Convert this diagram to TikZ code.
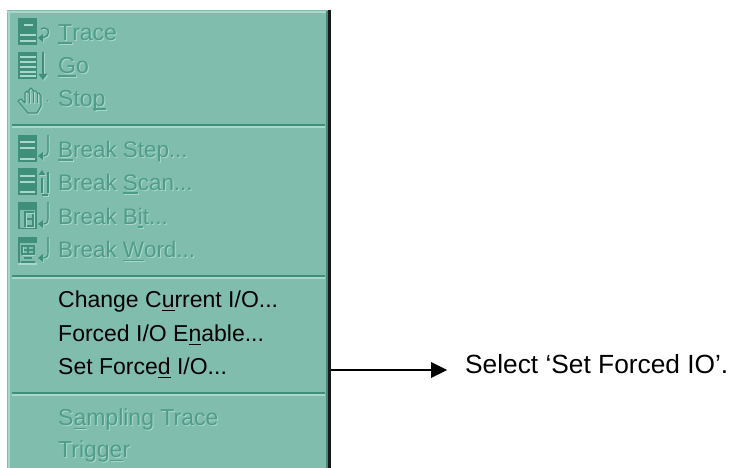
\documentclass[tikz,border=0pt]{standalone}
\usepackage{fontspec}
\setmainfont{Liberation Sans}
\definecolor{panel}{HTML}{80BDAC}
\definecolor{gdark}{HTML}{3F8F7A}
\definecolor{glight}{HTML}{A8D8CA}
\definecolor{etch}{HTML}{4F9C88}
\newcommand\mnem[1]{{\setbox0\hbox{#1}\rlap{\rule[-3pt]{\wd0}{1.2pt}}\box0}}
\newcommand\engr[1]{\rlap{\raisebox{-1pt}{\hspace{1pt}\textcolor{glight}{#1}}}\textcolor{etch}{#1}}
% box icon: top y
\newcommand\iconbox[1]{\fill[gdark] (18,#1) rectangle (37,#1+27);}
\newcommand\iln[3]{\draw[glight,line width=1.3] (#1,#3) -- (#2,#3);}
% return hook arrow
\newcommand\rethook[2]{%
 \foreach \c/\d in {glight/1,gdark/0}{
  \draw[\c,line width=1.1] (48+\d,#1+\d) -- (48+\d,#2-5+\d) .. controls (48+\d,#2-1+\d) and (46+\d,#2+\d) .. (42+\d,#2+\d);
  \fill[\c] (38+\d,#2+\d) -- (43+\d,#2-4+\d) -- (43+\d,#2+4+\d) -- cycle;}}
\tikzset{
 x=1pt,y=-1pt,
 menuitem/.style={anchor=base west,inner sep=0pt,font=\fontsize{23}{27}\selectfont},
 breakitem/.style={menuitem,font=\fontsize{22.4}{27}\selectfont},
 note/.style={anchor=base west,inner sep=0pt,font=\fontsize{26.3}{30}\selectfont,text=black},
 sepd/.style={gdark,line width=1.2},
 sepl/.style={glight,line width=1.2},
 conn/.style={black,line width=1.1}
}
\begin{document}
\begin{tikzpicture}
\useasboundingbox (0,0) rectangle (734,468);
\fill[white] (0,0) rectangle (734,468);
% panel
\node[fill=panel,inner sep=0pt,minimum width=321pt,minimum height=458pt,anchor=north west] (menu) at (7,10) {};
\fill[glight] (7,11) rectangle (329,13);
\fill[glight] (8,11) rectangle (10,468);
\fill[gdark] (325.5,11) rectangle (328,468);
\fill[black!90] (328,10) rectangle (331,468);
% separators
\foreach \y in {125,276,393}{
 \draw[sepd] (12,\y) -- (325,\y);
 \draw[sepl] (12,\y+2) -- (325,\y+2);
}
% text
\node[menuitem] (trace) at (58,40.7) {\engr{\mnem{T}race}};
\node[menuitem] (go) at (58,73.7) {\engr{\mnem{G}o}};
\node[menuitem] (stop) at (58,106.7) {\engr{Sto\mnem{p}}};
\node[breakitem] (bstep) at (58,157.7) {\engr{\mnem{B}reak Step...}};
\node[breakitem] (bscan) at (58,190.7) {\engr{Break \mnem{S}can...}};
\node[breakitem] (bbit) at (58,224.7) {\engr{Break B\mnem{i}t...}};
\node[breakitem] (bword) at (58,257.7) {\engr{Break \mnem{W}ord...}};
\node[menuitem,text=black] (change) at (58,307.7) {Change C\mnem{u}rrent I/O...};
\node[menuitem,text=black] (enable) at (58,341.7) {Forced I/O E\mnem{n}able...};
\node[menuitem,text=black] (setf) at (58,374.7) {Set Force\mnem{d} I/O...};
\node[menuitem] (samp) at (58,425.7) {\engr{S\mnem{a}mpling Trace}};
\node[menuitem] (trig) at (58,457.7) {\engr{Trigg\mnem{e}r}};
% icon Trace
\iconbox{18}
\iln{24}{33}{25} \iln{20}{36}{35} \iln{20}{36}{41}
\foreach \c/\d in {glight/1,gdark/0}{
 \draw[\c,line width=1.3] (41+\d,29+\d) .. controls (47+\d,26+\d) and (51+\d,31+\d) .. (47+\d,36+\d) -- (42+\d,38+\d);
 \fill[\c] (38+\d,38+\d) -- (43+\d,34+\d) -- (43+\d,42+\d) -- cycle;}
% icon Go
\iconbox{52}
\foreach \y in {57,62,67,72,76}{\iln{20}{36}{\y}}
\foreach \c/\d in {glight/1,gdark/0}{
 \draw[\c,line width=1.1] (43+\d,52+\d) -- (43+\d,74+\d);
 \fill[\c] (43+\d,80+\d) -- (38.5+\d,74+\d) -- (47.5+\d,74+\d) -- cycle;}
% icon hand
\foreach \c/\d in {glight/1,gdark/0}{
 \draw[\c,line width=1.1,line join=round] (18+\d,101+\d) -- (21+\d,99+\d) -- (25+\d,103+\d) -- (25+\d,93+\d) -- (27+\d,91+\d) -- (29+\d,93+\d) -- (29+\d,90+\d) -- (31+\d,88+\d) -- (33+\d,90+\d) -- (33+\d,91+\d) -- (36+\d,91+\d) -- (37+\d,93+\d) -- (39+\d,93+\d) -- (41+\d,96+\d) -- (41+\d,106+\d) -- (37+\d,113+\d) -- (28+\d,113+\d) -- cycle;
 \draw[\c,line width=1] (29+\d,93+\d) -- (29+\d,103+\d) (33+\d,91+\d) -- (33+\d,103+\d) (37+\d,93+\d) -- (37+\d,103+\d);
 \fill[\c] (47+\d,100+\d) rectangle (48.2+\d,101.2+\d);}
% icon Break Step
\iconbox{135}
\iln{20}{35}{142} \iln{20}{35}{148} \iln{20}{35}{159}
\rethook{135}{156}
% icon Break Scan
\iconbox{168}
\iln{20}{35}{176} \iln{20}{35}{182} \iln{20}{35}{192}
\foreach \c/\d in {glight/1,gdark/0}{
 \draw[\c,line width=1.1] (42+\d,178+\d) -- (42+\d,193+\d) (48+\d,172+\d) -- (48+\d,193+\d) (42+\d,195+\d) -- (48+\d,195+\d);
 \fill[\c] (42+\d,170+\d) -- (38.5+\d,175+\d) -- (45.5+\d,175+\d) -- cycle;}
% icon Break Bit
\iconbox{202}
\fill[panel] (20,210) rectangle (35,228);
\draw[gdark,line width=1.2] (25,212) rectangle (33,226);\draw[gdark,line width=1.2] (25,219) -- (33,219);
\draw[glight,line width=1] (26,213) rectangle (34,227);
\rethook{202}{224}
% icon Break Word
\iconbox{237}
\fill[panel] (20,243) rectangle (37,265);
\draw[glight,line width=1.2] (18,264) -- (37,264);
\draw[gdark,line width=1.2] (22,246) rectangle (34,254) (28,246) -- (28,254) (22,250) -- (34,250) (24,258) -- (32,258) (21,262) -- (35,262);
\draw[glight,line width=.9] (23,255) -- (35,255) (23,247) -- (23,253);
\rethook{237}{258}
% arrow
\node[note] (label) at (465,373) {Select ‘Set Forced IO’.};
\coordinate (tail) at (331,370);
\coordinate (tip) at (447,370);
\draw[conn] (tail) -- (432,370);
\fill[black] (tip) -- (431,362) -- (431,378) -- cycle;
\end{tikzpicture}
\end{document}
